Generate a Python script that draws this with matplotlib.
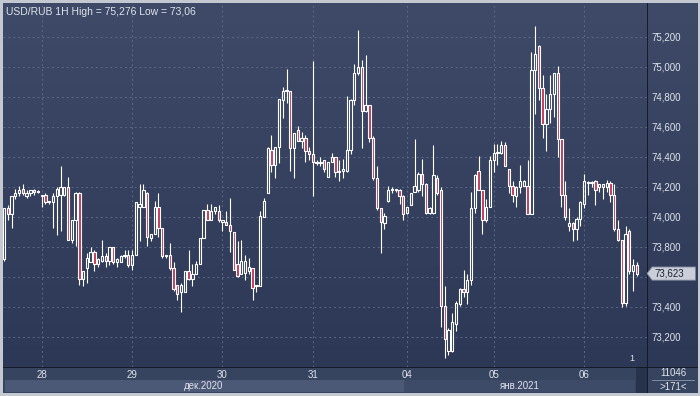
import numpy as np
import matplotlib.pyplot as plt
from matplotlib.colors import LinearSegmentedColormap
from matplotlib.patches import Polygon

# hourly USD/RUB candles
opens = [
    73.72, 74.06, 74.02, 74.14, 74.16, 74.19, 74.14, 74.16, 74.18, 74.17,
    74.15, 74.15, 74.10, 74.10, 74.14, 74.15, 74.15, 74.20, 73.85, 73.98,
    74.16, 73.59, 73.66, 73.70, 73.77, 73.69, 73.71, 73.74, 73.71,
    73.80, 73.70, 73.70, 73.74, 73.745, 73.68, 73.75, 74.07, 74.07, 74.16,
    73.86, 73.89, 74.07, 73.93, 73.74, 73.745, 73.66, 73.55, 73.50, 73.50,
    73.64, 73.59, 73.62, 73.69, 73.86, 74.05, 73.98, 74.04,
    74.04, 73.97, 73.97, 73.95, 73.90, 73.69, 73.62, 73.63, 73.64, 73.66,
    73.54, 73.54, 74.00, 74.16, 74.45, 74.35, 74.47, 74.78, 74.84, 74.84,
    74.46, 74.58, 74.51, 74.53, 74.44, 74.42, 74.37, 74.36,
    74.38, 74.27, 74.37, 74.40, 74.30, 74.31, 74.31, 74.45, 74.78, 74.96,
    75.00, 74.71, 74.75, 74.53, 74.26, 74.06, 73.96, 74.11, 74.18, 74.18,
    74.18, 74.14, 74.03, 74.08, 74.17, 74.18, 74.29, 74.22,
    74.03, 74.03, 74.26, 74.18, 73.41, 73.11, 73.11, 73.29, 73.42, 73.52,
    73.50, 73.58, 74.06, 74.31, 74.18, 73.98, 74.07, 74.38, 74.43, 74.43,
    74.48, 74.32, 74.21, 74.14, 74.20, 74.21, 74.21, 74.02,
    74.98, 75.14, 74.86, 74.62, 74.72, 74.82, 74.96, 74.52, 74.15, 73.94,
    73.96, 73.92, 73.99, 74.09, 74.23, 74.23, 74.24, 74.20, 74.20, 74.20,
    74.23, 74.15, 73.92, 73.85, 73.43, 73.91, 73.64, 73.68,
]
closes = [
    74.06, 74.02, 74.14, 74.16, 74.18, 74.16, 74.16, 74.18, 74.17, 74.17,
    74.14, 74.10, 74.11, 74.14, 74.19, 74.20, 74.20, 73.85, 73.98, 74.16,
    73.59, 73.64, 73.73, 73.77, 73.69, 73.72, 73.74, 73.71, 73.80,
    73.70, 73.72, 73.74, 73.745, 73.68, 73.75, 74.10, 74.09, 74.18, 73.87,
    73.89, 74.07, 73.93, 73.74, 73.745, 73.66, 73.52, 73.49, 73.55, 73.64,
    73.59, 73.62, 73.69, 73.86, 74.05, 73.98, 74.04, 74.07,
    73.98, 73.98, 73.95, 73.91, 73.65, 73.61, 73.71, 73.71, 73.665, 73.53,
    73.55, 74.01, 74.11, 74.46, 74.35, 74.47, 74.79, 74.84, 74.845, 74.46,
    74.56, 74.51, 74.53, 74.44, 74.42, 74.37, 74.36, 74.37,
    74.32, 74.37, 74.40, 74.30, 74.31, 74.32, 74.45, 74.78, 74.96, 75.00,
    74.71, 74.75, 74.53, 74.26, 74.06, 73.97, 74.01, 74.18, 74.185, 74.185,
    74.14, 74.02, 74.07, 74.16, 74.21, 74.29, 74.22, 74.03,
    74.06, 74.28, 74.16, 73.41, 73.19, 73.25, 73.30, 73.43, 73.52, 73.50,
    73.58, 74.06, 74.28, 74.18, 73.98, 74.07, 74.38, 74.43, 74.435, 74.48,
    74.34, 74.21, 74.15, 74.20, 74.24, 74.24, 74.02, 74.98,
    75.09, 74.86, 74.62, 74.72, 74.82, 74.96, 74.52, 74.15, 74.00, 73.96,
    73.92, 73.99, 74.10, 74.24, 74.235, 74.235, 74.18, 74.22, 74.22, 74.23,
    74.15, 73.92, 73.85, 73.43, 73.89, 73.64, 73.68, 73.623,
]
highs = [
    74.06, 74.08, 74.14, 74.19, 74.21, 74.22, 74.18, 74.18, 74.19, 74.18,
    74.15, 74.16, 74.11, 74.16, 74.20, 74.34, 74.20, 74.27, 73.98, 74.17,
    74.17, 73.64, 73.76, 73.80, 73.78, 73.73, 73.85, 73.76, 73.80,
    73.80, 73.73, 73.75, 73.78, 73.78, 73.78, 74.10, 74.22, 74.22, 74.17,
    73.89, 74.11, 74.16, 73.93, 73.75, 73.83, 73.70, 73.55, 73.56, 73.64,
    73.78, 73.69, 73.71, 73.86, 74.05, 74.09, 74.09, 74.07,
    74.08, 73.98, 74.04, 74.13, 73.90, 73.84, 73.85, 73.75, 73.73, 73.66,
    73.55, 74.04, 74.13, 74.47, 74.55, 74.47, 74.79, 74.87, 74.99, 74.84,
    74.56, 74.61, 74.57, 74.55, 74.47, 75.04, 74.38, 74.40,
    74.38, 74.37, 74.43, 74.40, 74.38, 74.39, 74.81, 74.79, 75.02, 75.25,
    75.05, 75.08, 74.75, 74.54, 74.34, 74.06, 74.03, 74.21, 74.20, 74.19,
    74.19, 74.15, 74.07, 74.16, 74.52, 74.30, 74.39, 74.23,
    74.07, 74.48, 74.28, 74.20, 73.54, 73.26, 73.36, 73.44, 73.53, 73.65,
    73.62, 74.17, 74.29, 74.41, 74.18, 74.12, 74.41, 74.49, 74.49, 74.51,
    74.50, 74.32, 74.24, 74.21, 74.35, 74.25, 74.38, 75.10,
    75.276, 75.15, 74.95, 74.82, 74.95, 74.96, 75.01, 74.52, 74.24, 74.06,
    73.97, 74.00, 74.11, 74.29, 74.24, 74.24, 74.25, 74.22, 74.22, 74.25,
    74.24, 74.22, 73.98, 73.85, 73.94, 73.92, 73.72, 73.70,
]
lows = [
    73.71, 73.98, 73.93, 74.12, 74.14, 74.15, 74.13, 74.14, 74.15, 74.16,
    74.07, 74.09, 74.09, 73.93, 73.88, 73.91, 74.14, 73.85, 73.83, 73.81,
    73.55, 73.54, 73.56, 73.70, 73.64, 73.67, 73.70, 73.67, 73.68,
    73.69, 73.67, 73.70, 73.73, 73.67, 73.65, 73.75, 73.84, 74.07, 73.81,
    73.84, 73.89, 73.87, 73.73, 73.73, 73.65, 73.51, 73.45, 73.37, 73.50,
    73.58, 73.54, 73.62, 73.69, 73.86, 73.98, 73.98, 74.02,
    73.97, 73.91, 73.95, 73.77, 73.65, 73.60, 73.62, 73.58, 73.62, 73.45,
    73.50, 73.54, 74.00, 74.16, 74.30, 74.26, 74.36, 74.66, 74.76, 74.31,
    74.26, 74.51, 74.46, 74.37, 74.38, 74.14, 74.35, 74.34,
    74.30, 74.27, 74.37, 74.27, 74.24, 74.26, 74.30, 74.42, 74.75, 74.95,
    74.46, 74.70, 74.50, 74.25, 74.05, 73.76, 73.92, 74.10, 74.16, 74.17,
    74.09, 73.98, 74.02, 74.08, 74.165, 74.17, 74.14, 74.02,
    74.02, 74.02, 74.15, 73.27, 73.06, 73.08, 73.10, 73.24, 73.41, 73.47,
    73.42, 73.55, 74.03, 74.18, 73.89, 73.97, 74.07, 74.30, 74.35, 74.42,
    74.34, 74.16, 74.10, 74.07, 74.16, 74.21, 74.02, 74.02,
    74.69, 74.78, 74.53, 74.44, 74.63, 74.67, 74.40, 74.07, 73.98, 73.91,
    73.84, 73.85, 73.94, 74.06, 74.15, 74.20, 74.08, 74.17, 74.12, 74.17,
    74.10, 73.91, 73.84, 73.40, 73.41, 73.62, 73.51, 73.61,
]

day_labels = ['28', '29', '30', '31', '04', '05', '06']
day_start_bar = [10, 34, 58, 82, 107, 130, 154]
month_labels = ['дек.2020', 'янв.2021']
price_levels = [73.2, 73.4, 73.6, 73.8, 74.0, 74.2, 74.4, 74.6, 74.8, 75.0, 75.2]
last_price = 73.623
bar_count_text = '11046'
visible_text = '>171<'

W, H = 700, 396
BG_TOP, BG_BOT = '#3e4a67', '#2c3856'
TXT = '#dfe3ea'
GRID = '#5d6a86'
plt.rcParams['font.family'] = ['Liberation Sans', 'DejaVu Sans']

fig = plt.figure(figsize=(W / 100, H / 100), dpi=100, facecolor='#c3c8d1')


def px_axes(x0, y0, x1, y1):
    a = fig.add_axes([x0 / W, 1 - y1 / H, (x1 - x0) / W, (y1 - y0) / H])
    a.set_xticks([])
    a.set_yticks([])
    for s in a.spines.values():
        s.set_visible(False)
    return a


grad = LinearSegmentedColormap.from_list('bg', [BG_BOT, BG_TOP])

ax = px_axes(3, 3, 647, 367)
ax_r = px_axes(647, 3, 698, 367)
ax_d = px_axes(3, 367, 647, 393)
ax_b = px_axes(647, 367, 698, 393)

n = len(opens)
x = np.arange(n)
o = np.array(opens)
c = np.array(closes)
h = np.array(highs)
l = np.array(lows)
top = np.maximum(o, c)
bot = np.minimum(o, c)

xlim = (-0.27, 170.7)
ylim = (73.0, 75.427)

for a in (ax, ax_r):
    a.imshow(np.linspace(0, 1, 256)[:, None], aspect='auto', cmap=grad,
             origin='lower', extent=(0, 1, 0, 1), transform=a.transAxes, zorder=0)

ax.set_xlim(*xlim)
ax.set_ylim(*ylim)
ax_r.set_ylim(*ylim)
ax_r.set_xlim(0, 1)

# grid
for p in price_levels:
    ax.axhline(p, color=GRID, lw=0.7, ls=(0, (2, 3)), zorder=1)
for d in day_start_bar:
    ax.axvline(d, color=GRID, lw=0.7, ls=(0, (2, 3)), zorder=1)

# candles
ax.vlines(x, top, h, color='white', lw=0.8, zorder=2)
ax.vlines(x, l, bot, color='white', lw=0.8, zorder=2)
bear = c < o
body = np.maximum(top - bot, 0.004)
ax.bar(x[~bear], body[~bear], bottom=bot[~bear], width=0.62,
       facecolor='none', edgecolor='white', lw=0.8, zorder=3)
ax.bar(x[bear], body[bear], bottom=bot[bear], width=0.62,
       facecolor='#c23a57', edgecolor='white', lw=0.8, zorder=3)

ax.text(0.005, 0.988, f'USD/RUB 1H High = {max(highs):.3f} Low = {min(lows):.2f}'.replace('.', ','),
        transform=ax.transAxes, va='top', ha='left', color=TXT, fontsize=7.5)
ax.text(0.972, 0.012, '1', transform=ax.transAxes, color=TXT, fontsize=6.5, va='bottom')

# right price axis
ax_r.axvline(0, color='#10141c', lw=1.2)
for p in price_levels:
    if abs(p - last_price) < 0.07:
        continue
    ax_r.text(0.08, p, f'{p:.3f}'.replace('.', ','), color=TXT, fontsize=7, va='center')

# last price tag
hh = 0.044
tag = Polygon([(0.0, last_price), (0.1, last_price + hh), (0.95, last_price + hh),
               (0.95, last_price - hh), (0.1, last_price - hh)], closed=True,
              fc='#c9ced8', ec='#7d8699', lw=0.6, zorder=3)
ax_r.add_patch(tag)
ax_r.text(0.14, last_price, f'{last_price:.3f}'.replace('.', ','), color='#1c2333',
          fontsize=7, va='center', zorder=4)

# date axis
ax_d.set_facecolor('#37445f')
ax_d.set_xlim(*xlim)
ax_d.set_ylim(0, 1)
ax_d.axhline(1, color='#10141c', lw=1.2)
split = day_start_bar[4] - 0.8
ax_d.axvspan(xlim[0] + 0.5, split, ymin=0.05, ymax=0.5, color='#4b5876', lw=0)
ax_d.axvspan(split, 167.5, ymin=0.05, ymax=0.5, color='#3d4a68', lw=0)
ax_d.axvspan(167.7, xlim[1], ymin=0, ymax=1, color='#27324b', lw=0)
for d, lab in zip(day_start_bar, day_labels):
    ax_d.text(d, 0.7, lab, color=TXT, fontsize=7, ha='center', va='center')
ax_d.text((xlim[0] + split) / 2, 0.27, month_labels[0], color=TXT, fontsize=7,
          ha='center', va='center')
ax_d.text((split + 167.5) / 2, 0.27, month_labels[1], color=TXT, fontsize=7,
          ha='center', va='center')

# bottom-right info box
ax_b.set_facecolor('#37445f')
ax_b.axvline(0, color='#10141c', lw=1.2)
ax_b.axhline(1, color='#10141c', lw=1.2)
ax_b.plot([0.1, 0.92], [0.5, 0.5], color='#8e98ab', lw=0.6)
ax_b.set_xlim(0, 1)
ax_b.set_ylim(0, 1)
ax_b.text(0.52, 0.76, bar_count_text, color=TXT, fontsize=7, ha='center', va='center')
ax_b.text(0.52, 0.25, visible_text, color=TXT, fontsize=7, ha='center', va='center')

fig.savefig('out.png', dpi=100, facecolor=fig.get_facecolor())
